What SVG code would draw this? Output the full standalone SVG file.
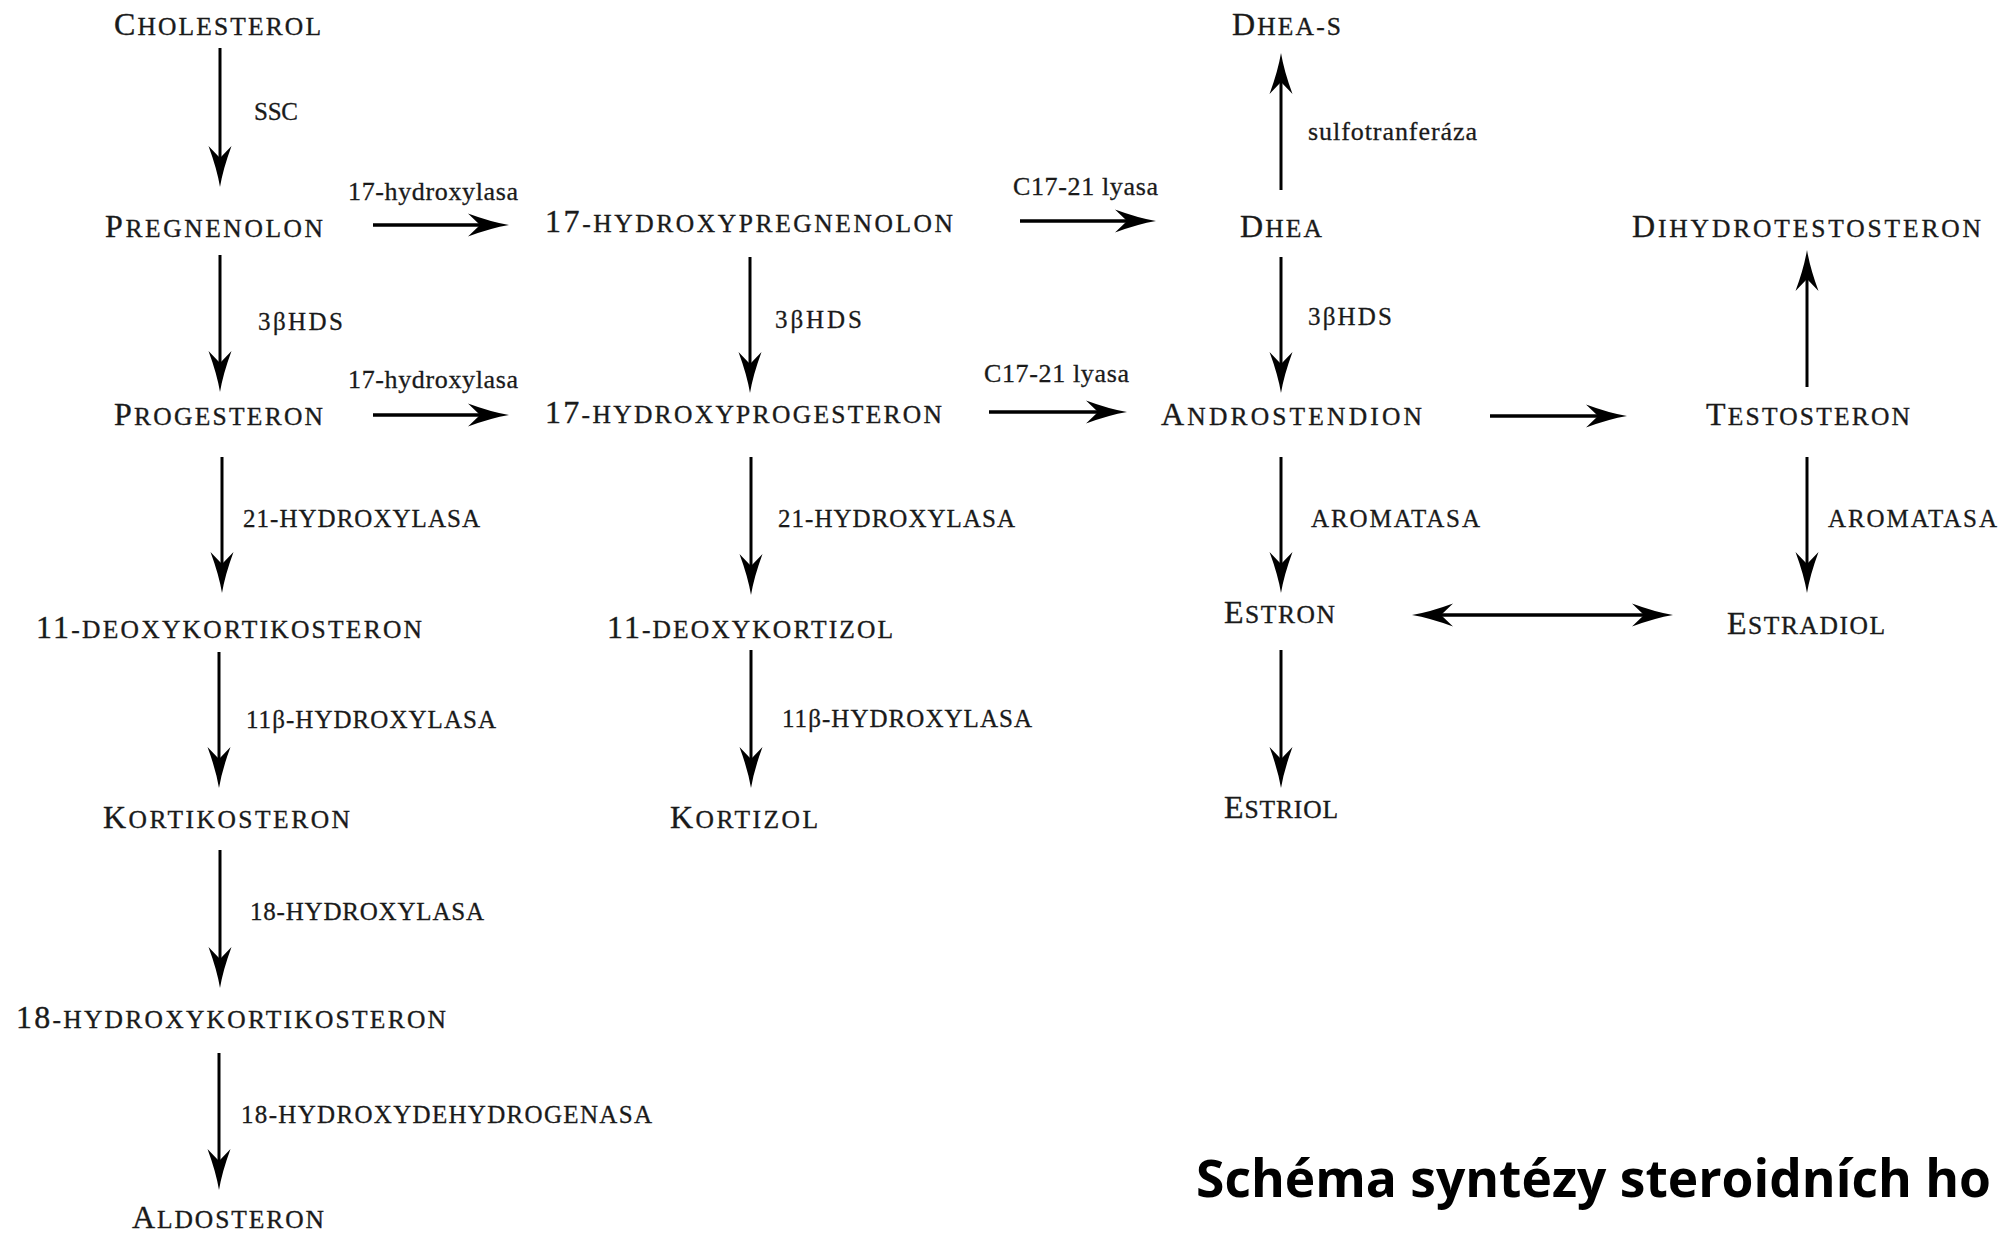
<svg xmlns="http://www.w3.org/2000/svg" width="2004" height="1233" viewBox="0 0 2004 1233">
<style>
.n{font-family:"Liberation Serif",serif;font-size:25.5px;fill:#1a1a1a;stroke:#1a1a1a;stroke-width:0.35}
.n .b{font-size:32px}
.l{font-family:"Liberation Serif",serif;font-size:25px;fill:#1a1a1a;stroke:#1a1a1a;stroke-width:0.3}
.lc{font-family:"Liberation Serif",serif;font-size:26px;fill:#1a1a1a;stroke:#1a1a1a;stroke-width:0.3}
.c line{stroke:#000;stroke-width:3;marker-end:url(#ah)}
.t{font-family:"Open Sans","Noto Sans",sans-serif;font-weight:700;font-size:52px;fill:#000}
</style>
<defs>
<marker id="ah" markerUnits="userSpaceOnUse" viewBox="-44 -13 46 26" refX="-25" refY="0" markerWidth="46" markerHeight="26" orient="auto-start-reverse">
<path d="M0,0 Q-18,-3 -41,-11.5 L-29,0 L-41,11.5 Q-18,3 0,0 Z" fill="#000"/>
</marker>
</defs>
<rect width="2004" height="1233" fill="#fff"/>
<g id="connectors" class="c">
<line x1="220" y1="48" x2="220" y2="162"/>
<line x1="220" y1="255" x2="220" y2="367"/>
<line x1="222" y1="457" x2="222" y2="568"/>
<line x1="219" y1="652" x2="219" y2="763"/>
<line x1="220" y1="850" x2="220" y2="963"/>
<line x1="219" y1="1053" x2="219" y2="1165"/>
<line x1="373" y1="225" x2="484" y2="225" style="stroke-width:3.5"/>
<line x1="373" y1="415" x2="484" y2="415" style="stroke-width:3.5"/>
<line x1="750" y1="257" x2="750" y2="368"/>
<line x1="751" y1="457" x2="751" y2="570"/>
<line x1="751" y1="650" x2="751" y2="763"/>
<line x1="1020" y1="221" x2="1131" y2="221" style="stroke-width:3.5"/>
<line x1="989" y1="412" x2="1102" y2="412" style="stroke-width:3.5"/>
<line x1="1281" y1="190" x2="1281" y2="78"/>
<line x1="1281" y1="257" x2="1281" y2="368"/>
<line x1="1490" y1="416" x2="1602" y2="416" style="stroke-width:3.5"/>
<line x1="1807" y1="387" x2="1807" y2="275"/>
<line x1="1281" y1="457" x2="1281" y2="568"/>
<line x1="1807" y1="457" x2="1807" y2="568"/>
<line x1="1281" y1="650" x2="1281" y2="763"/>
<line x1="1437" y1="615" x2="1648" y2="615" style="stroke-width:3.5;marker-start:url(#ah)"/>
</g>
<g id="n-cholesterol"><text class="n" x="114" y="35" textLength="207" lengthAdjust="spacing"><tspan class="b">C</tspan>HOLESTEROL</text></g>
<g id="n-pregnenolon"><text class="n" x="105" y="237" textLength="218" lengthAdjust="spacing"><tspan class="b">P</tspan>REGNENOLON</text></g>
<g id="n-progesteron"><text class="n" x="114" y="425" textLength="209" lengthAdjust="spacing"><tspan class="b">P</tspan>ROGESTERON</text></g>
<g id="n-11deoxykortikosteron"><text class="n" x="36" y="638" textLength="386" lengthAdjust="spacing"><tspan class="b">11</tspan>-DEOXYKORTIKOSTERON</text></g>
<g id="n-kortikosteron"><text class="n" x="103" y="828" textLength="247" lengthAdjust="spacing"><tspan class="b">K</tspan>ORTIKOSTERON</text></g>
<g id="n-18hydroxykortikosteron"><text class="n" x="16" y="1028" textLength="430" lengthAdjust="spacing"><tspan class="b">18</tspan>-HYDROXYKORTIKOSTERON</text></g>
<g id="n-aldosteron"><text class="n" x="132" y="1228" textLength="192" lengthAdjust="spacing"><tspan class="b">A</tspan>LDOSTERON</text></g>
<g id="n-17hydroxypregnenolon"><text class="n" x="545" y="232" textLength="408" lengthAdjust="spacing"><tspan class="b">17</tspan>-HYDROXYPREGNENOLON</text></g>
<g id="n-17hydroxyprogesteron"><text class="n" x="545" y="423" textLength="397" lengthAdjust="spacing"><tspan class="b">17</tspan>-HYDROXYPROGESTERON</text></g>
<g id="n-11deoxykortizol"><text class="n" x="607" y="638" textLength="286" lengthAdjust="spacing"><tspan class="b">11</tspan>-DEOXYKORTIZOL</text></g>
<g id="n-kortizol"><text class="n" x="670" y="828" textLength="148" lengthAdjust="spacing"><tspan class="b">K</tspan>ORTIZOL</text></g>
<g id="n-dheas"><text class="n" x="1232" y="35" textLength="109" lengthAdjust="spacing"><tspan class="b">D</tspan>HEA-S</text></g>
<g id="n-dhea"><text class="n" x="1240" y="237" textLength="82" lengthAdjust="spacing"><tspan class="b">D</tspan>HEA</text></g>
<g id="n-androstendion"><text class="n" x="1161" y="425" textLength="261" lengthAdjust="spacing"><tspan class="b">A</tspan>NDROSTENDION</text></g>
<g id="n-dihydrotestosteron"><text class="n" x="1632" y="237" textLength="349" lengthAdjust="spacing"><tspan class="b">D</tspan>IHYDROTESTOSTERON</text></g>
<g id="n-testosteron"><text class="n" x="1706" y="425" textLength="204" lengthAdjust="spacing"><tspan class="b">T</tspan>ESTOSTERON</text></g>
<g id="n-estron"><text class="n" x="1224" y="623" textLength="111" lengthAdjust="spacing"><tspan class="b">E</tspan>STRON</text></g>
<g id="n-estradiol"><text class="n" x="1727" y="634" textLength="158" lengthAdjust="spacing"><tspan class="b">E</tspan>STRADIOL</text></g>
<g id="n-estriol"><text class="n" x="1224" y="818" textLength="114" lengthAdjust="spacing"><tspan class="b">E</tspan>STRIOL</text></g>
<g id="labels">
<text class="l" x="254" y="120" textLength="44" lengthAdjust="spacing">SSC</text>
<text class="lc" x="348" y="200" textLength="170" lengthAdjust="spacing">17-hydroxylasa</text>
<text class="lc" x="348" y="388" textLength="170" lengthAdjust="spacing">17-hydroxylasa</text>
<text class="l" x="258" y="330" textLength="85" lengthAdjust="spacing">3βHDS</text>
<text class="lc" x="1013" y="195" textLength="145" lengthAdjust="spacing">C17-21 lyasa</text>
<text class="l" x="775" y="328" textLength="87" lengthAdjust="spacing">3βHDS</text>
<text class="lc" x="984" y="382" textLength="145" lengthAdjust="spacing">C17-21 lyasa</text>
<text class="lc" x="1308" y="140" textLength="169" lengthAdjust="spacing">sulfotranferáza</text>
<text class="l" x="1308" y="325" textLength="84" lengthAdjust="spacing">3βHDS</text>
<text class="l" x="243" y="527" textLength="237" lengthAdjust="spacing">21-HYDROXYLASA</text>
<text class="l" x="246" y="728" textLength="250" lengthAdjust="spacing">11β-HYDROXYLASA</text>
<text class="l" x="250" y="920" textLength="234" lengthAdjust="spacing">18-HYDROXYLASA</text>
<text class="l" x="241" y="1123" textLength="411" lengthAdjust="spacing">18-HYDROXYDEHYDROGENASA</text>
<text class="l" x="778" y="527" textLength="237" lengthAdjust="spacing">21-HYDROXYLASA</text>
<text class="l" x="782" y="727" textLength="250" lengthAdjust="spacing">11β-HYDROXYLASA</text>
<text class="l" x="1311" y="527" textLength="169" lengthAdjust="spacing">AROMATASA</text>
<text class="l" x="1828" y="527" textLength="169" lengthAdjust="spacing">AROMATASA</text>
</g>
<g id="title"><text class="t" x="1196" y="1197" textLength="795" lengthAdjust="spacingAndGlyphs">Schéma syntézy steroidních ho</text></g>
</svg>
